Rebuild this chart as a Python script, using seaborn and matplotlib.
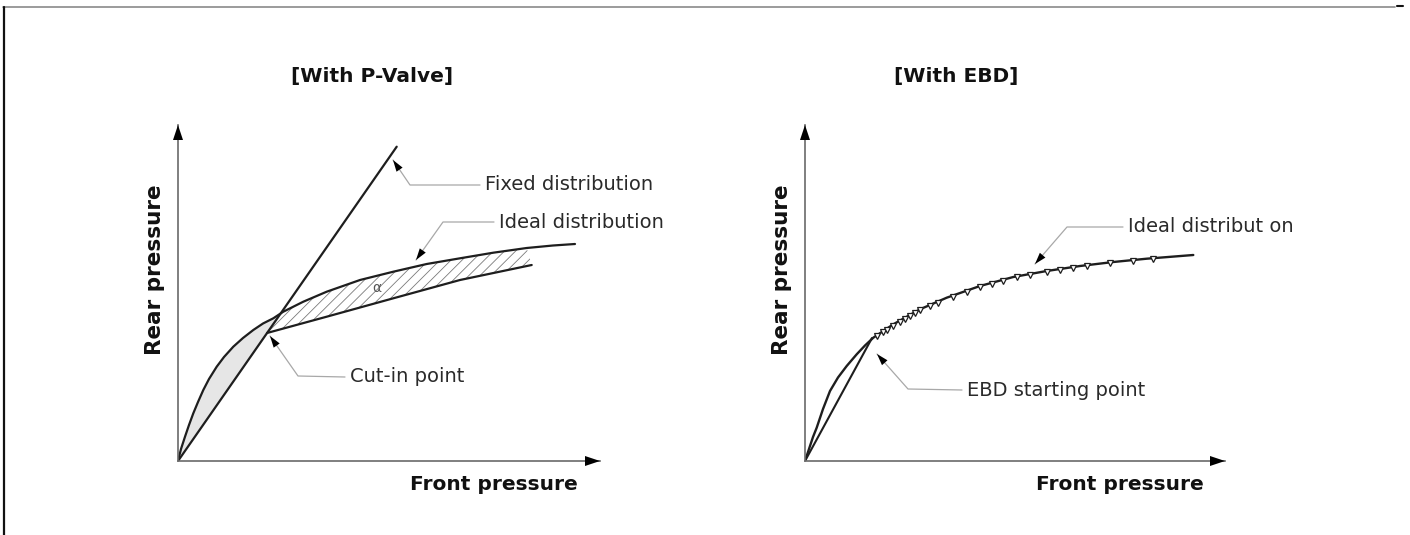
import numpy as np
import matplotlib.pyplot as plt
import seaborn as sns
from matplotlib.lines import Line2D

# pressure curves, in pixel-like units measured from each panel's origin
# --- left panel: with P-valve
fixed_x = [0, 218.7]
fixed_y = [0, 314.3]
ideal_x = [0, 3, 7, 11, 15.3, 20, 25.3, 31, 38.7, 46, 55.3, 65, 75.3, 85, 95.3, 105.3, 125.3, 148.7, 182, 215.3, 248.7, 282, 315.3, 348.7, 375, 397]
ideal_y = [0, 12, 24.3, 36, 47.7, 59, 71, 82, 94.3, 104, 114.3, 123, 131, 137.5, 142.7, 149.3, 159.3, 169.3, 181, 189.3, 197, 202.7, 208.3, 213, 215.5, 217]
pvalve_x = [89, 148.7, 215.3, 282, 353.7]
pvalve_y = [128, 144.3, 162.7, 181, 196]

# --- right panel: with EBD
ebd_ideal_x = [0, 2.5, 5, 8, 11.7, 18, 25, 33, 41.7, 51.7, 60, 68.3, 88.3, 115, 141.7, 175, 208.3, 241.7, 275, 308.3, 341.7, 388.3]
ebd_ideal_y = [0, 7.5, 15, 24, 33.3, 52, 70, 83.5, 95, 106.7, 115.5, 123.3, 136.7, 151.7, 163.3, 175, 184, 190, 195, 199, 202.3, 206]
ebd_start_x = [0, 67]
ebd_start_y = [0, 123]
teeth_x = [72, 78, 82, 88, 95, 100, 105, 110, 115, 125, 133, 148, 162, 175, 187, 198, 212, 225, 242, 255, 268, 282, 305, 328, 348]
teeth_y = [124.8, 128.8, 131.5, 135.3, 139.5, 142.4, 145.1, 148, 150.7, 155, 158.5, 164.5, 169.4, 174, 177.2, 180.2, 183.7, 186, 189, 191, 193, 194.8, 197.6, 200, 201.8]

# annotations: label, text position, knee of leader, arrow tip
left_notes = [
    ("Fixed distribution", (307, 276), (232, 276), (215, 301)),
    ("Ideal distribution", (321, 239), (265, 239), (238, 201)),
    ("Cut-in point", (172, 84), (120, 85), (92, 125)),
]
right_notes = [
    ("Ideal distribut on", (323, 234), (262, 234), (230, 197)),
    ("EBD starting point", (162, 71), (103, 72), (72, 107)),
]

W, H = 1410, 535
sns.set_style('white')
plt.rcParams['font.family'] = ['DejaVu Sans']
plt.rcParams['hatch.linewidth'] = 0.6

fig = plt.figure(figsize=(W / 100, H / 100), dpi=100)

# outer frame pieces
fig.add_artist(Line2D([3 / W, 1395 / W], [1 - 7 / H, 1 - 7 / H], color='#8a8a8a', lw=1.2))
fig.add_artist(Line2D([1397 / W, 1403 / W], [1 - 6 / H, 1 - 6 / H], color='#111', lw=1.5))
fig.add_artist(Line2D([4 / W, 4 / W], [1 - 7 / H, 0], color='#111', lw=1.6))

LINE = '#1e1e1e'


def setup(ax, title, title_x):
    ax.set_xlim(0, 422)
    ax.set_ylim(0, 336)
    ax.set_xticks([])
    ax.set_yticks([])
    sns.despine(ax=ax)
    for s in ('left', 'bottom'):
        ax.spines[s].set_color('#6a6a6a')
        ax.spines[s].set_linewidth(1.2)
    # arrow heads on the axes
    head = dict(arrowstyle='-|>,head_length=0.9,head_width=0.3', mutation_scale=12,
                color='k', lw=0, shrinkA=0, shrinkB=0)
    ax.annotate('', xy=(1.0, 0), xytext=(0.95, 0), xycoords='axes fraction',
                arrowprops=head, annotation_clip=False)
    ax.annotate('', xy=(0, 1.0), xytext=(0, 0.94), xycoords='axes fraction',
                arrowprops=head, annotation_clip=False)
    ax.set_xlabel('Front pressure', fontsize=14.5, fontweight='bold', color='#111')
    ax.xaxis.set_label_coords(0.55, -0.042)
    ax.xaxis.label.set_horizontalalignment('left')
    ax.set_ylabel('Rear pressure', fontsize=15.5, fontweight='bold', color='#111')
    ax.yaxis.set_label_coords(-0.03, 0.57)
    ax.text(title_x, 1.143, title, transform=ax.transAxes, ha='center', va='center',
            fontsize=14.5, fontweight='bold', color='#111')


def notes(ax, items):
    for label, (tx, ty), (kx, ky), (px, py) in items:
        ax.plot([tx - 5, kx, px], [ty, ky, py], color='#a8a8a8', lw=0.9, clip_on=False)
        ax.annotate('', xy=(px, py), xytext=(kx, ky),
                    arrowprops=dict(arrowstyle='-|>,head_length=0.7,head_width=0.22',
                                    mutation_scale=12, color='k', lw=0,
                                    shrinkA=0, shrinkB=0))
        ax.text(tx, ty, label, ha='left', va='center', fontsize=14, color='#2a2a2a')


# ---------- left panel
ax1 = fig.add_axes([178 / W, 74 / H, 422 / W, 336 / H])
setup(ax1, '[With P-Valve]', 0.46)

# shaded area between ideal curve and fixed line below the crossing
cross = ideal_x.index(105.3) + 1
ax1.fill(ideal_x[:cross] + [0], ideal_y[:cross] + [0], color='#e6e6e6', lw=0, zorder=1)
# hatched area between ideal curve and P-valve line
end = ideal_x.index(348.7)
hx = pvalve_x + ideal_x[end:cross - 2:-1]
hy = pvalve_y + ideal_y[end:cross - 2:-1]
ax1.fill(hx, hy, facecolor='none', edgecolor='#7a7a7a', hatch='///', lw=0, zorder=1)

for xs, ys in ((fixed_x, fixed_y), (ideal_x, ideal_y), (pvalve_x, pvalve_y)):
    sns.lineplot(x=xs, y=ys, ax=ax1, color=LINE, lw=1.6, sort=False, estimator=None,
                 solid_joinstyle='round')
ax1.text(199, 173, 'α', fontsize=10, color='#555', ha='center', va='center')
notes(ax1, left_notes)

# ---------- right panel
ax2 = fig.add_axes([805 / W, 74 / H, 420 / W, 336 / H])
setup(ax2, '[With EBD]', 0.36)
ax2.set_xlim(0, 420)

sns.lineplot(x=ebd_ideal_x, y=ebd_ideal_y, ax=ax2, color=LINE, lw=1.7, sort=False,
             estimator=None, solid_joinstyle='round')
sns.lineplot(x=ebd_start_x, y=ebd_start_y, ax=ax2, color=LINE, lw=1.5, sort=False, estimator=None)
ax2.plot(teeth_x, teeth_y, ls='none', marker='v', ms=4, mfc='white', mec=LINE, mew=0.9)
notes(ax2, right_notes)

fig.savefig('out.png', dpi=100, facecolor='white')
